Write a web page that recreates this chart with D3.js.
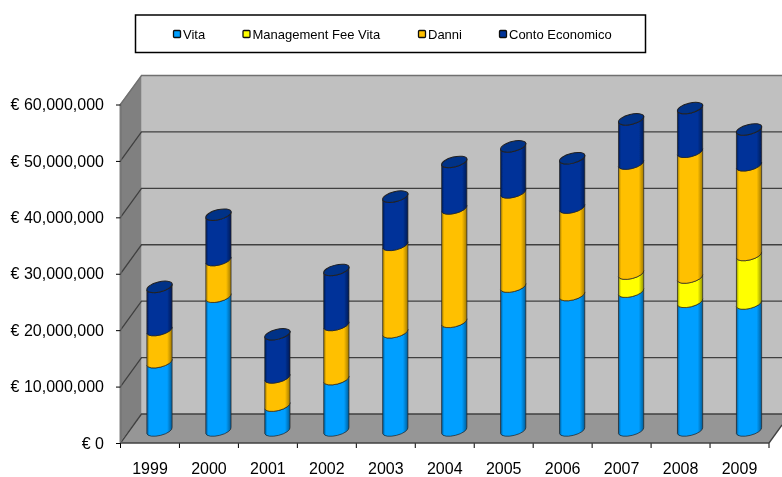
<!DOCTYPE html>
<html><head><meta charset="utf-8">
<script src="https://cdn.jsdelivr.net/npm/d3@7"></script>
<style>html,body{margin:0;background:#fff}svg{display:block}text{font-family:"Liberation Sans",Arial,sans-serif;fill:#000}</style>
</head><body><svg id="c" width="782" height="477"></svg>
<script>
const years=["1999","2000","2001","2002","2003","2004","2005","2006","2007","2008","2009"];
const seriesNames=["Vita","Management Fee Vita","Danni","Conto Economico"];
const vita=[11.75,23.35,4.05,8.75,17.05,18.9,25.15,23.65,24.25,22.45,22.15];
const fee=[0,0,0,0,0,0,0,0,3.2,4.3,8.6];
const danni=[5.7,6.5,5,9.6,15.5,20.1,16.7,15.5,19.5,22.3,15.9];
const conto=[7.65,8.05,7.65,9.75,8.55,8.25,8.15,8.75,7.85,7.75,6.35];
const tickVals=[0,10,20,30,40,50,60];
const seriesVals=[vita,fee,danni,conto];
const colors=["#009fff","#ffff00","#ffc000","#003399"];
const dark=["#005c99","#8f8f00","#a07800","#001a55"];
const svg=d3.select("#c");
const root=svg.append("g").attr("filter","url(#soft)");
const dx=21,dy=-29;
const x=d3.scaleBand().domain(years).range([120.5,769]);
const y=d3.scaleLinear().domain([0,60]).range([443,104.5]);
const barOff=9.5, barBase=-14.5, footDrop=2;
const defs=svg.append("defs");
defs.append("filter").attr("id","soft").attr("x",0).attr("y",0).attr("width",1).attr("height",1)
 .append("feGaussianBlur").attr("stdDeviation",0.35);
colors.forEach((c,i)=>{const g=defs.append("linearGradient").attr("id","g"+i);
 [[0,dark[i]],[.1,c],[.8,c],[1,dark[i]]].forEach(s=>g.append("stop").attr("offset",s[0]).attr("stop-color",s[1]));});
root.append("rect").attr("width",782).attr("height",477).attr("fill","#fff");
const x0=x.range()[0],x1=x.range()[1];
const poly=(pts,fill)=>root.append("polygon").attr("points",pts.map(p=>p.join(",")).join(" ")).attr("fill",fill);
poly([[x0+dx,y(60)+dy],[782,y(60)+dy],[782,y(0)+dy],[x0+dx,y(0)+dy]],"#c0c0c0");
poly([[x0-1,y(60)],[x0+dx,y(60)+dy],[x0+dx,y(0)+dy],[x0-1,y(0)]],"#808080");
poly([[x0,y(0)],[x0+dx,y(0)+dy],[782,y(0)+dy],[782,y(0)-18],[x1,y(0)]],"#969696");
tickVals.forEach(t=>{
 root.append("path").attr("fill","none").attr("stroke",t===60?"#707070":"#404040").attr("stroke-width",1.3)
  .attr("d",d3.line()([[x0,y(t)],[x0+dx,y(t)+dy],[782,y(t)+dy]]));
});
const ax=root.append("g").attr("transform",`translate(0,${y(0)})`).call(d3.axisBottom(x).tickSize(5).tickPadding(15).tickSizeOuter(0));
ax.select(".domain").remove();
ax.selectAll(".tick line").attr("transform",`translate(${-x.step()/2},0)`).attr("stroke","#000");
ax.selectAll("text").attr("font-size",16).attr("font-family","Liberation Sans");
ax.append("line").attr("x1",x1).attr("x2",x1).attr("y1",0).attr("y2",5).attr("stroke","#000");
ax.append("line").attr("x1",x0).attr("x2",x1).attr("y1",0).attr("y2",0).attr("stroke","#404040").attr("stroke-width",1.3);
root.append("line").attr("x1",x1).attr("y1",y(0)).attr("x2",782).attr("y2",y(0)-18).attr("stroke","#404040").attr("stroke-width",1.3);
const ay=root.append("g").attr("transform",`translate(${x0},0)`).call(d3.axisLeft(y).tickValues(tickVals).tickSize(4.5).tickPadding(12).tickSizeOuter(0).tickFormat(d=>d===0?"€ 0":"€ "+d3.format(",")(d*1e6)));
ay.select(".domain").attr("stroke","#707070");
ay.selectAll("text").attr("font-size",16).attr("font-family","Liberation Sans");
const rx=13,ry=5,tilt=-14;
const sin=Math.sin(tilt*Math.PI/180),cos=Math.cos(tilt*Math.PI/180);
years.forEach((yr,j)=>{
 const cx=x(yr)+x.bandwidth()/2+barOff;
 const g=root.append("g");
 let acc=0;
 seriesVals.forEach((vals,i)=>{
  const v=vals[j]; if(!v) return;
  const yb=y(acc)+barBase+(acc===0?footDrop:0), yt=y(acc+v)+barBase;
  const ex=rx*cos, ey=rx*sin;
  const d=`M${cx-ex},${yt-ey} L${cx-ex},${yb-ey} A${rx},${ry} ${tilt} 0 0 ${cx+ex},${yb+ey} L${cx+ex},${yt+ey} A${rx},${ry} ${tilt} 0 1 ${cx-ex},${yt-ey} Z`;
  g.append("path").attr("d",d).attr("fill",`url(#g${i})`).attr("stroke","#222").attr("stroke-opacity",.7).attr("stroke-width",1);
  acc+=v;
  if(i===3){
   g.append("ellipse").attr("rx",rx).attr("ry",ry).attr("transform",`translate(${cx},${yt}) rotate(${tilt})`).attr("fill","#003087").attr("stroke","#222").attr("stroke-width",1);
  }
 });
});
root.append("rect").attr("x",135.5).attr("y",15).attr("width",510).attr("height",37.5).attr("fill","#fff").attr("stroke","#000").attr("stroke-width",1.5);
const legX=[173.5,243,418.5,499.5];
seriesNames.forEach((n,i)=>{
 root.append("rect").attr("x",legX[i]).attr("y",30.5).attr("width",7).attr("height",7).attr("rx",1).attr("fill",colors[i]).attr("stroke","#111").attr("stroke-width",1.3);
 root.append("text").attr("x",legX[i]+9.5).attr("y",39).attr("font-size",13).text(n);
});
</script></body></html>
